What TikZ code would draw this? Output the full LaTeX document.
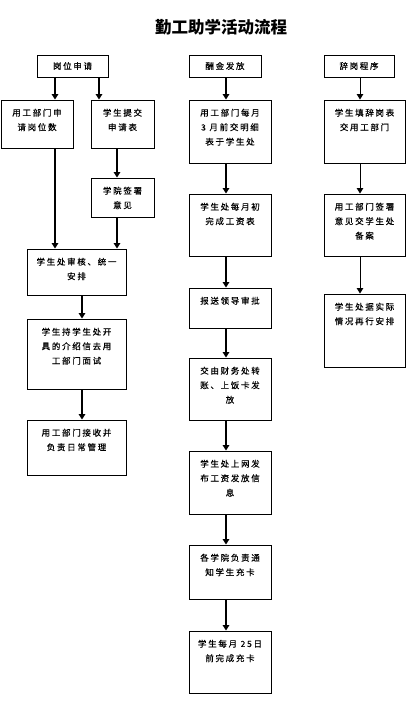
\documentclass[tikz,border=0pt]{standalone}
\usepackage{fontspec}
\newfontfamily\cjk[LetterSpace=20,FakeBold=0.3]{Noto Sans CJK SC}
\newfontfamily\cjkt{Noto Sans CJK SC}
\usetikzlibrary{arrows.meta,fit}
\tikzset{
  box/.style={draw, line width=0.9pt, inner sep=0pt, rectangle},
  lbl/.style={anchor=north, yshift=-7pt, align=center, inner sep=2pt,
    font=\cjk\fontsize{8.5}{14.5}\selectfont},
  hlbl/.style={anchor=center, align=center, inner sep=0pt,
    font=\cjk\fontsize{8.5}{14.5}\selectfont},
  arr/.style={line width=2.2pt, -{Triangle[width=6.5pt,length=5.5pt]}},
  thinarr/.style={line width=1pt, -{Triangle[width=6.5pt,length=5.5pt]}},
}
\newcommand\bx[6]{%
  \path (#2,#3) coordinate (#1-a) (#4,#5) coordinate (#1-b);
  \node[box, fit=(#1-a)(#1-b), label={[lbl]north:{#6}}] (#1) {};}
\newcommand\hx[6]{%
  \path (#2,#3) coordinate (#1-a) (#4,#5) coordinate (#1-b);
  \node[box, fit=(#1-a)(#1-b), label={[hlbl]center:{#6}}] (#1) {};}
\begin{document}
\begin{tikzpicture}[x=1pt,y=-1pt]
\fill[white] (0,0) rectangle (415,701);
\useasboundingbox (0,0) rectangle (415,701);
\node[font=\cjkt\bfseries\fontsize{16.5}{16.5}\selectfont] (title) at (221,27) {勤工助学活动流程};
% headers
\hx{h1}{37}{55}{108}{77}{岗位申请}
\hx{h2}{189}{55}{261}{77}{酬金发放}
\hx{h3}{324}{55}{394}{77}{辞岗程序}
% column 1
\bx{b1}{1}{100}{73}{148}{用工部门申\\请岗位数}
\bx{b2}{91}{100}{154}{148}{学生提交\\申请表}
\bx{b3}{91}{178}{154}{217}{学院签署\\意见}
\bx{b4}{27}{249}{126}{295}{学生处审核、统一\\安排}
\bx{b5}{27}{319}{126}{389}{学生持学生处开\\具的介绍信去用\\工部门面试}
\bx{b6}{27}{420}{126}{475}{用工部门接收并\\负责日常管理}
% column 2
\bx{c1}{189}{100}{271}{163}{用工部门每月\\3 月前交明细\\表于学生处}
\bx{c2}{189}{194}{271}{256}{学生处每月初\\完成工资表}
\bx{c3}{189}{288}{271}{328}{报送领导审批}
\bx{c4}{189}{358}{271}{420}{交由财务处转\\账、上饭卡发\\放}
\bx{c5}{189}{451}{271}{514}{学生处上网发\\布工资发放信\\息}
\bx{c6}{189}{545}{271}{599}{各学院负责通\\知学生充卡}
\bx{c7}{189}{631}{271}{693}{学生每月 25日\\前完成充卡}
% column 3
\bx{d1}{324}{100}{405}{163}{学生填辞岗表\\交用工部门}
\bx{d2}{324}{194}{405}{256}{用工部门签署\\意见交学生处\\备案}
\bx{d3}{324}{294}{405}{367}{学生处据实际\\情况再行安排}
% arrow x positions
\coordinate (xa) at (55,0);
\coordinate (xb) at (99,0);
\coordinate (xc) at (117,0);
\coordinate (xd) at (82,0);
\coordinate (xe) at (226,0);
\coordinate (xf) at (360,0);
\draw[arr] (h1.south -| xa) -- (b1.north -| xa);
\draw[arr] (h1.south -| xb) -- (b2.north -| xb);
\draw[arr] (b2.south -| xc) -- (b3.north -| xc);
\draw[arr] (b1.south -| xa) -- (b4.north -| xa);
\draw[arr] (b3.south -| xc) -- (b4.north -| xc);
\draw[arr] (b4.south -| xd) -- (b5.north -| xd);
\draw[arr] (b5.south -| xd) -- (b6.north -| xd);
\draw[arr] (h2.south -| xe) -- (c1.north -| xe);
\draw[arr] (c1.south -| xe) -- (c2.north -| xe);
\draw[arr] (c2.south -| xe) -- (c3.north -| xe);
\draw[arr] (c3.south -| xe) -- (c4.north -| xe);
\draw[arr] (c4.south -| xe) -- (c5.north -| xe);
\draw[arr] (c5.south -| xe) -- (c6.north -| xe);
\draw[arr] (c6.south -| xe) -- (c7.north -| xe);
\draw[thinarr] (h3.south -| xf) -- (d1.north -| xf);
\draw[thinarr] (d1.south -| xf) -- (d2.north -| xf);
\draw[thinarr] (d2.south -| xf) -- (d3.north -| xf);
\end{tikzpicture}
\end{document}
